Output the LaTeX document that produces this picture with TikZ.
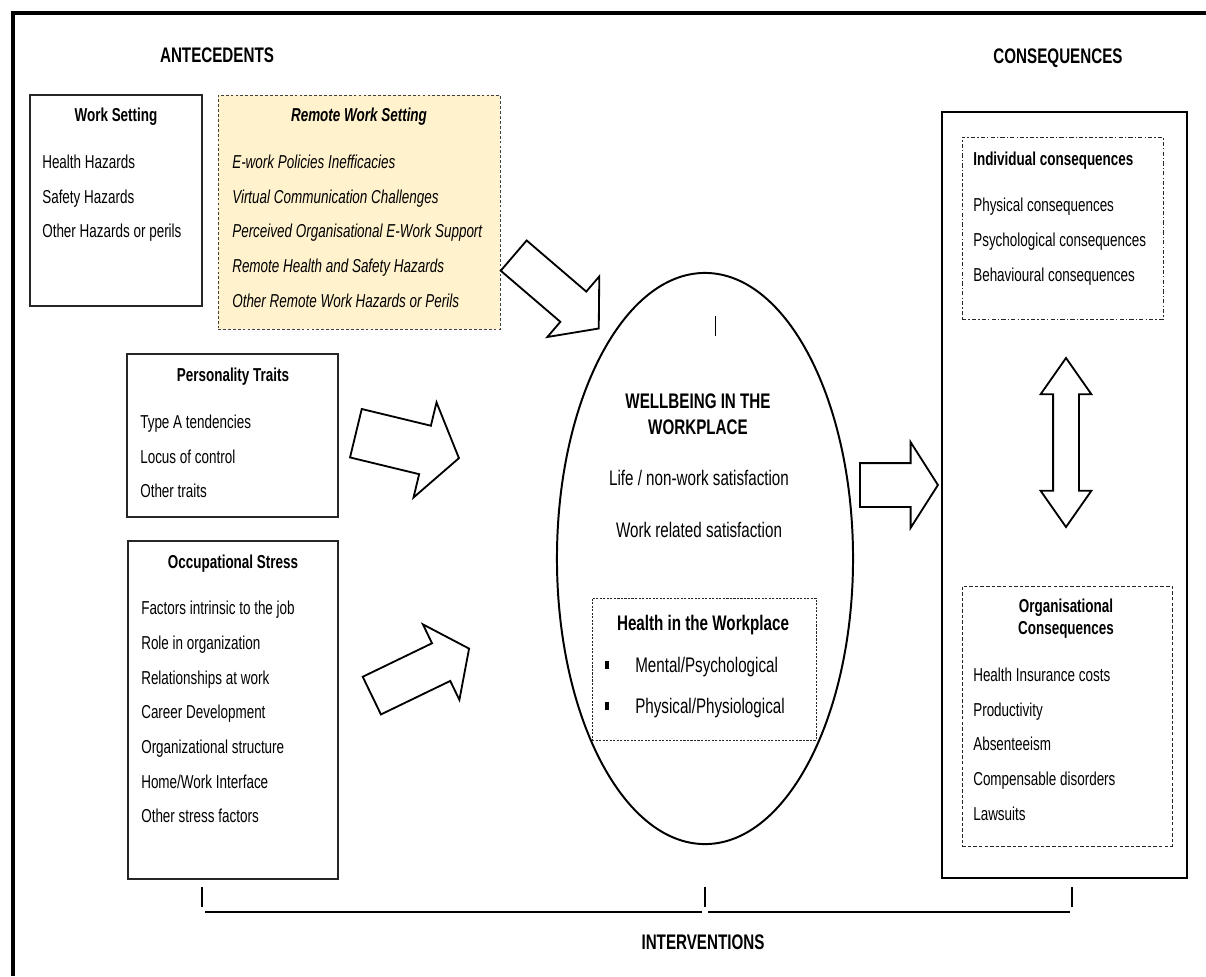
\documentclass[tikz,border=0pt]{standalone}
\usepackage{fontspec}
\setmainfont{Liberation Sans}[FakeStretch=0.72]
\usetikzlibrary{shapes.geometric,shapes.arrows,fit,positioning}

\newcommand\txtsmall{\fontsize{13.3}{16}\selectfont}
\newcommand\txtbig{\fontsize{15}{18}\selectfont}
\definecolor{remotefill}{HTML}{FFF2CC}

\tikzset{
  box/.style={draw=black!85, line width=0.9pt, inner sep=0pt},
  item/.style={anchor=west, inner sep=0pt, text height=9.5pt, text depth=0pt, font=\txtsmall},
  bigitem/.style={anchor=west, inner sep=0pt, text height=10.7pt, text depth=0pt, font=\txtbig},
  title/.style={inner sep=0pt, text height=9.5pt, text depth=0pt, font=\txtsmall\bfseries},
  heading/.style={inner sep=0pt, text height=10.7pt, text depth=0pt, font=\txtbig\bfseries},
  fatarrow/.style={draw, line width=1.3pt, single arrow, inner xsep=0pt,
    single arrow head indent=0pt, anchor=tail},
}

\begin{document}
\begin{tikzpicture}[x=0.025cm, y=-0.025cm]
\useasboundingbox (0,0) rectangle (1206,976);

% frame
\draw[line width=2.9pt] (1206,13) -- (13,13) -- (13,976);

% headings
\node[heading] (ante) at (217,55) {ANTECEDENTS};
\node[heading] (cons) at (1058,56) {CONSEQUENCES};
\node[heading] (interv) at (703,942) {INTERVENTIONS};

% work setting
\node[box, fit={(30,95) (202,306)}] (ws) {};
\node[title] (wsT) at (116,115) {Work Setting};
\foreach \t [count=\i] in {Health Hazards, Safety Hazards, Other Hazards or perils}
  \node[item] (ws-\i) at (42,{162+34.6*(\i-1)}) {\t};

% remote work setting
\node[box, draw=black!75, line width=0.7pt, fill=remotefill,
      dash pattern=on 2pt off 1.5pt, fit={(218,95) (500,329)}] (rws) {};
\node[title, font=\txtsmall\bfseries\itshape] (rwsT) at (359,115) {Remote Work Setting};
\foreach \t [count=\i] in {E-work Policies Inefficacies, Virtual Communication Challenges,
    Perceived Organisational E-Work Support, Remote Health and Safety Hazards,
    Other Remote Work Hazards or Perils}
  \node[item, font=\txtsmall\itshape] (rws-\i) at (232,{162+34.6*(\i-1)}) {\t};

% personality traits
\node[box, fit={(127,354) (338,517)}] (pt) {};
\node[title] (ptT) at (233,375) {Personality Traits};
\foreach \t [count=\i] in {Type A tendencies, Locus of control, Other traits}
  \node[item] (pt-\i) at (140,{422+34.6*(\i-1)}) {\t};

% occupational stress
\node[box, fit={(128,541) (338,879)}] (os) {};
\node[title] (osT) at (233,562) {Occupational Stress};
\foreach \t [count=\i] in {Factors intrinsic to the job, Role in organization,
    Relationships at work, Career Development, Organizational structure,
    Home/Work Interface, Other stress factors}
  \node[item] (os-\i) at (141,{608+34.7*(\i-1)}) {\t};

% wellbeing
\node[draw, ellipse, line width=1.4pt, inner sep=0pt,
      minimum width=7.4cm, minimum height=14.275cm] (wb) at (705,558.5) {};
\draw[line width=0.7pt] (715,316) -- (715,336);
\node[heading, align=center, text height=, font=\fontsize{15}{18.5}\selectfont\bfseries]
  (wbT) at (698,414) {WELLBEING IN THE\\WORKPLACE};
\node[heading, font=\txtbig] (wb-1) at (699,478) {Life / non-work satisfaction};
\node[heading, font=\txtbig] (wb-2) at (699,530) {Work related satisfaction};

% health in the workplace
\node[box, line width=0.7pt, dash pattern=on 1.5pt off 1pt, fit={(592,598) (816,740)}] (hw) {};
\node[heading] (hwT) at (703,623) {Health in the Workplace};
\foreach \t [count=\i] in {Mental/Psychological, Physical/Physiological} {
  \node[fill=black, minimum width=3.5pt, minimum height=5pt, inner sep=0pt]
    (hwb-\i) at (607,{665+41*(\i-1)}) {};
  \node[bigitem] (hw-\i) at (635,{665+41*(\i-1)}) {\t};
}

% consequences
\node[box, draw=black, line width=2.1pt, fit={(942,112) (1187,878)}] (cq) {};
\node[box, line width=0.7pt, dash pattern=on 3pt off 1.5pt on 1pt off 1.5pt,
      fit={(962,137) (1163,319)}] (ic) {};
\node[title, anchor=west] (icT) at (973,159) {Individual consequences};
\foreach \t [count=\i] in {Physical consequences, Psychological consequences,
    Behavioural consequences}
  \node[item] (ic-\i) at (973,{205+34.8*(\i-1)}) {\t};
\node[box, line width=0.7pt, dash pattern=on 2.5pt off 1.5pt, fit={(962,586) (1172,846)}] (oc) {};
\node[title, align=center, text height=, font=\fontsize{13.3}{15.6}\selectfont\bfseries]
  (ocT) at (1066,617) {Organisational\\Consequences};
\foreach \t [count=\i] in {Health Insurance costs, Productivity, Absenteeism,
    Compensable disorders, Lawsuits}
  \node[item] (oc-\i) at (973,{675+34.6*(\i-1)}) {\t};

% block arrows
\node[fatarrow, rotate=-40.6, minimum height=2.8cm, inner ysep=0.475cm,
      single arrow head extend=0.5cm, single arrow tip angle=100] (arw-rws) at (513,255) {};
\node[fatarrow, rotate=-13.6, minimum height=2.65cm, inner ysep=0.6cm,
      single arrow head extend=0.6cm, single arrow tip angle=109] (arw-pt) at (355,433) {};
\node[fatarrow, rotate=25.8, minimum height=2.7cm, inner ysep=0.5cm,
      single arrow head extend=0.525cm, single arrow tip angle=107] (arw-os) at (371,696) {};
\node[fatarrow, minimum height=1.95cm, inner ysep=0.525cm,
      single arrow head extend=0.525cm, single arrow tip angle=115] (arw-wb) at (859,485) {};
\node[draw, line width=1.3pt, double arrow, rotate=90, inner xsep=0pt, inner ysep=0.3cm,
      double arrow head extend=0.3125cm, double arrow tip angle=70,
      double arrow head indent=0pt, minimum height=4.225cm] (arw-cq) at (1066,442.5) {};

% interventions bracket
\coordinate (iv-l) at (202,887);
\coordinate (iv-m) at (705,887);
\coordinate (iv-r) at (1072,887);
\foreach \c in {iv-l, iv-m, iv-r}
  \draw[line width=0.9pt] (\c) -- ++(0,20);
\draw[line width=1.1pt] ([shift={(3,25)}]iv-l) -- ([shift={(-3,25)}]iv-m);
\draw[line width=1.1pt] ([shift={(3,25)}]iv-m) -- ([shift={(-2,25)}]iv-r);
\end{tikzpicture}
\end{document}
